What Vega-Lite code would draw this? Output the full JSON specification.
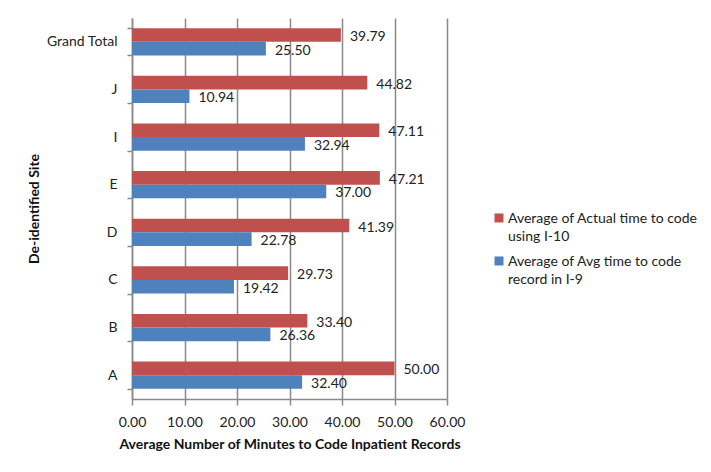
{
  "$schema": "https://vega.github.io/schema/vega-lite/v6.json",
  "width": 315,
  "height": 381,
  "autosize": {"type": "none"},
  "padding": {"left": 132, "top": 18, "right": 264, "bottom": 73},
  "background": "white",
  "data": {
    "values": [
      {"site": "Grand Total", "series": "Average of Actual time to code using I-10", "value": 39.79},
      {"site": "Grand Total", "series": "Average of Avg time to code record in I-9", "value": 25.50},
      {"site": "J", "series": "Average of Actual time to code using I-10", "value": 44.82},
      {"site": "J", "series": "Average of Avg time to code record in I-9", "value": 10.94},
      {"site": "I", "series": "Average of Actual time to code using I-10", "value": 47.11},
      {"site": "I", "series": "Average of Avg time to code record in I-9", "value": 32.94},
      {"site": "E", "series": "Average of Actual time to code using I-10", "value": 47.21},
      {"site": "E", "series": "Average of Avg time to code record in I-9", "value": 37.00},
      {"site": "D", "series": "Average of Actual time to code using I-10", "value": 41.39},
      {"site": "D", "series": "Average of Avg time to code record in I-9", "value": 22.78},
      {"site": "C", "series": "Average of Actual time to code using I-10", "value": 29.73},
      {"site": "C", "series": "Average of Avg time to code record in I-9", "value": 19.42},
      {"site": "B", "series": "Average of Actual time to code using I-10", "value": 33.40},
      {"site": "B", "series": "Average of Avg time to code record in I-9", "value": 26.36},
      {"site": "A", "series": "Average of Actual time to code using I-10", "value": 50.00},
      {"site": "A", "series": "Average of Avg time to code record in I-9", "value": 32.40}
    ]
  },
  "encoding": {
    "y": {
      "field": "site",
      "type": "nominal",
      "sort": ["Grand Total", "J", "I", "E", "D", "C", "B", "A"],
      "scale": {"paddingInner": 0.43, "paddingOuter": 0.215},
      "axis": {
        "title": "De-identified Site",
        "titleFontWeight": "bold",
        "titleFontSize": 14,
        "titlePadding": 5,
        "tickBand": "extent",
        "tickSize": 5,
        "labelPadding": 10,
        "labelFontSize": 14,
        "labelColor": "#222222",
        "domainColor": "#898989",
        "domainWidth": 1.5,
        "tickColor": "#898989",
        "tickWidth": 1.5,
        "grid": false
      }
    },
    "yOffset": {
      "field": "series",
      "type": "nominal",
      "sort": ["Average of Actual time to code using I-10", "Average of Avg time to code record in I-9"],
      "scale": {"paddingInner": 0, "paddingOuter": 0}
    },
    "x": {
      "field": "value",
      "type": "quantitative",
      "scale": {"domain": [0, 60], "nice": false},
      "axis": {
        "title": "Average Number of Minutes to Code Inpatient Records",
        "titleFontWeight": "bold",
        "titleFontSize": 14,
        "titlePadding": 8,
        "values": [0, 10, 20, 30, 40, 50, 60],
        "format": ".2f",
        "labelFlush": false,
        "labelFontSize": 14,
        "labelColor": "#222222",
        "labelPadding": 10,
        "tickSize": 6,
        "tickColor": "#898989",
        "tickWidth": 1.5,
        "domainColor": "#898989",
        "domainWidth": 1.5,
        "grid": true,
        "gridColor": "#898989",
        "gridWidth": 1.5
      }
    }
  },
  "layer": [
    {
      "mark": {"type": "bar"},
      "encoding": {
        "color": {
          "field": "series",
          "type": "nominal",
          "sort": ["Average of Actual time to code using I-10", "Average of Avg time to code record in I-9"],
          "scale": {"range": ["#C0504D", "#4F81BD"]},
          "legend": {
            "title": null,
            "orient": "none",
            "legendX": 360,
            "legendY": 187,
            "symbolType": "M-1,0.33H1V2.33H-1Z",
            "symbolSize": 81,
            "symbolStrokeWidth": 0,
            "labelFontSize": 14,
            "labelColor": "#222222",
            "labelLimit": 300,
            "labelBaseline": "top",
            "labelOffset": 2,
            "rowPadding": 4,
            "labelExpr": "datum.label == 'Average of Actual time to code using I-10' ? ['Average of Actual time to code', 'using I-10'] : ['Average of Avg time to code', 'record in I-9']"
          }
        }
      }
    },
    {
      "mark": {"type": "text", "align": "left", "baseline": "middle", "dx": 9, "dy": 2, "fontSize": 14, "color": "#222222"},
      "encoding": {
        "text": {"field": "value", "type": "quantitative", "format": ".2f"}
      }
    }
  ],
  "config": {
    "font": "Lato",
    "view": {"stroke": null},
    "style": {"guide-label": {"lineHeight": 18}},
    "axis": {"titleColor": "#111111"}
  }
}
